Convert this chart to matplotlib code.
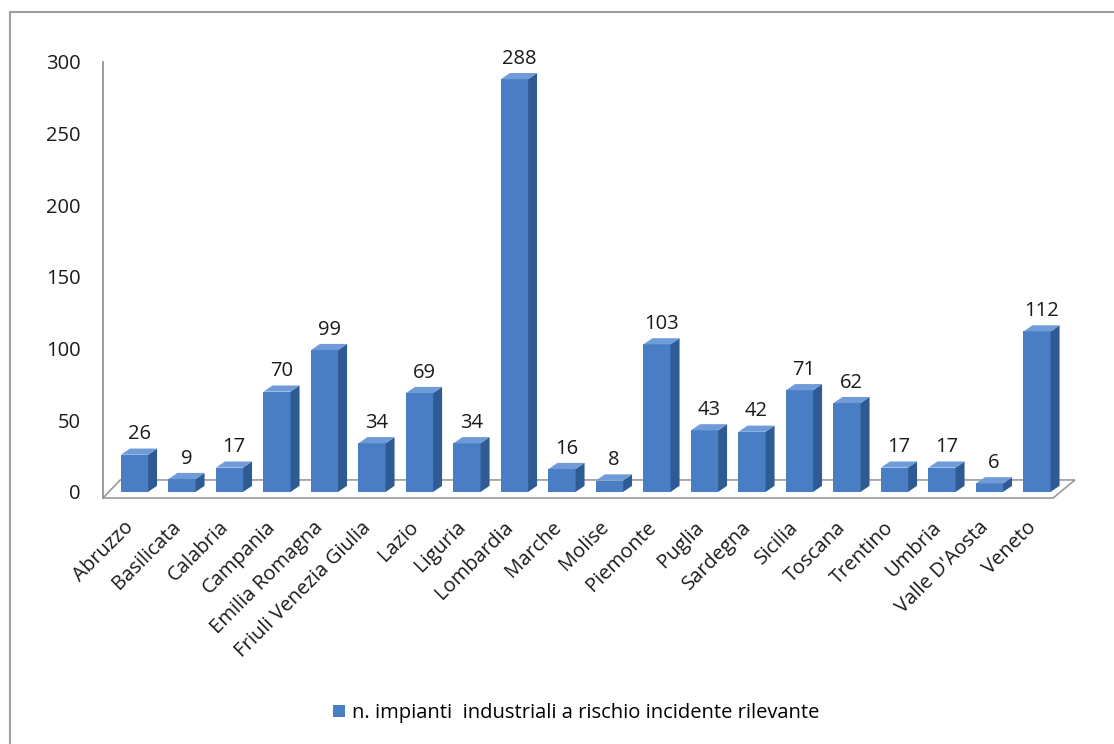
import matplotlib.pyplot as plt
from matplotlib.patches import Polygon, Rectangle
from matplotlib.transforms import ScaledTranslation

# Data
regioni = ["Abruzzo", "Basilicata", "Calabria", "Campania", "Emilia Romagna",
           "Friuli Venezia Giulia", "Lazio", "Liguria", "Lombardia", "Marche",
           "Molise", "Piemonte", "Puglia", "Sardegna", "Sicilia", "Toscana",
           "Trentino", "Umbria", "Valle D'Aosta", "Veneto"]
impianti = [26, 9, 17, 70, 99, 34, 69, 34, 288, 16, 8, 103, 43, 42, 71, 62,
            17, 17, 6, 112]
legenda = "n. impianti  industriali a rischio incidente rilevante"

plt.rcParams['font.family'] = ['Open Sans', 'DejaVu Sans']
fs = 14.5

W, H = 1114, 744
fig = plt.figure(figsize=(W / 100, H / 100), dpi=100)

# axes placed in pixel terms of the reference
x0, x1 = 103, 1075
y_top, y_bot = 62, 498
ax = fig.add_axes([x0 / W, 1 - y_bot / H, (x1 - x0) / W, (y_bot - y_top) / H])
ax.set_xlim(-0.663, 19.8)
ax.set_ylim(-4.2, 300)
for s in ["top", "right", "bottom"]:
    ax.spines[s].set_visible(False)
ax.spines["left"].set_color("#8c8c8c")
ax.spines["left"].set_linewidth(1.2)

# 3D look parameters (data units)
w = 0.57      # front face width
dx = 0.19     # depth offset horizontal
dy = 4.3      # depth offset vertical
front = "#4a7ec4"
side = "#2f5b94"
top = "#6f9bd8"

# floor
floor_back = 8.4
floor = Polygon([(-0.663, -4.2), (19.34, -4.2), (19.8, floor_back),
                 (-0.3, floor_back)], closed=True, facecolor="white",
                edgecolor="#9a9a9a", lw=1.2, clip_on=False, zorder=1)
ax.add_patch(floor)

xs = list(range(len(regioni)))
ax.bar(xs, impianti, width=w, color=front, edgecolor="none", zorder=3)
for x, v in zip(xs, impianti):
    l, r = x - w / 2, x + w / 2
    ax.add_patch(Polygon([(r, 0), (r + dx, dy), (r + dx, v + dy), (r, v)],
                         closed=True, facecolor=side, edgecolor="none", zorder=3))
    ax.add_patch(Polygon([(l, v), (l + dx, v + dy), (r + dx, v + dy), (r, v)],
                         closed=True, facecolor=top, edgecolor="none", zorder=3))
    ax.annotate(str(v), (x + dx / 2, v + dy), xytext=(0, 3),
                textcoords="offset points", ha="center", va="bottom",
                fontsize=fs, color="#1a1a1a", annotation_clip=False)

ax.set_yticks([0, 50, 100, 150, 200, 250, 300])
ax.tick_params(axis="y", length=0, pad=16, labelsize=fs, labelcolor="#1a1a1a")
ax.set_xticks(xs)
ax.set_xticklabels(regioni, rotation=45, ha="right", rotation_mode="anchor",
                   fontsize=fs, color="#1a1a1a")
ax.tick_params(axis="x", length=0, pad=14)
shift = ScaledTranslation(-11 / 100, 0, fig.dpi_scale_trans)
for lab in ax.get_xticklabels():
    lab.set_transform(lab.get_transform() + shift)

# legend
fig.legend([Rectangle((0, 0), 1, 1, facecolor=front)], [legenda],
           loc="center", bbox_to_anchor=(576 / W, 1 - 713 / H), frameon=False,
           fontsize=fs, handlelength=0.6, handleheight=0.55, handletextpad=0.35)

# outer frame
fig.patches.append(Rectangle((10 / W, -0.05), 1.1, 1 - 12 / H + 0.05,
                             transform=fig.transFigure, fill=False,
                             edgecolor="#a0a0a0", lw=1.5))

fig.savefig("out.png", dpi=100)
